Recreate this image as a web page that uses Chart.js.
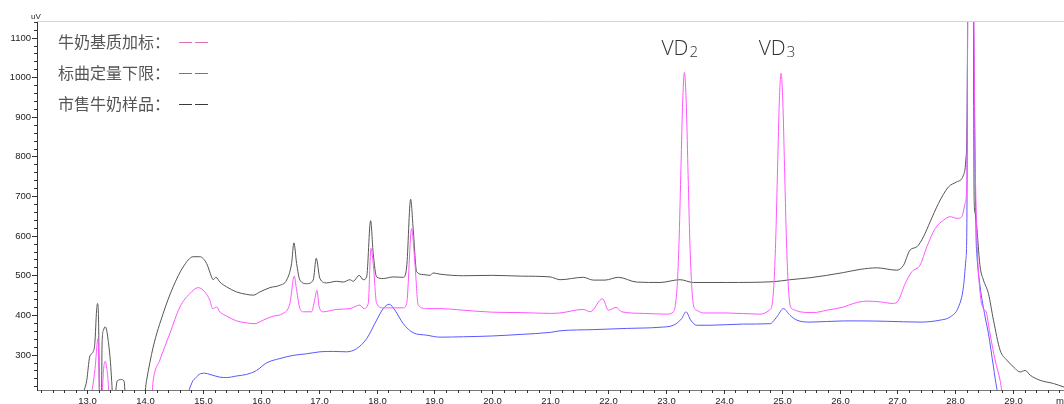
<!DOCTYPE html>
<html>
<head>
<meta charset="utf-8">
<script src="https://cdn.jsdelivr.net/npm/chart.js@4.4.0/dist/chart.umd.min.js"></script>
<style>
html,body{margin:0;padding:0;background:#fff}
#wrap{width:1064px;height:404px}
</style>
</head>
<body>
<div id="wrap"><canvas id="chrom" width="1064" height="404"></canvas></div>
<script>
// axis ranges (min / uV)
const xRange = [12.13, 29.88];
const yRange = [210.6, 1142];

// 市售牛奶样品 (black)
const sampleTimes = [12.90,12.945,12.99,13.04,13.10,13.13,13.16,13.176,13.195,13.21,13.235,13.245,13.255,13.28,13.305,13.33,13.36,13.40,13.42,13.44,13.475,13.515,13.59,13.635,13.66,13.98,
  14.024,14.138,14.311,14.483,14.656,14.829,14.945,15.061,15.147,15.175,15.222,15.291,15.407,15.580,15.752,15.867,15.982,16.155,16.328,16.444,16.530,16.570,16.617,16.674,16.790,16.904,16.956,17.020,
  17.136,17.308,17.423,17.538,17.595,17.699,17.768,17.827,17.896,17.941,18.000,18.114,18.287,18.460,18.519,18.588,18.633,18.692,18.806,18.922,18.979,19.094,19.5,20.0,20.5,21.0,21.17,21.572,21.745,
  21.947,22.177,22.495,22.898,23.244,23.474,24.051,24.857,25.146,25.492,25.780,26.067,26.356,26.644,26.990,27.104,27.220,27.336,27.450,27.566,27.709,27.882,28.028,28.142,28.183,28.205,28.228,28.26,
  28.29,28.315,28.327,28.344,28.431,28.488,28.574,28.661,28.776,28.892,29.006,29.122,29.209,29.295,29.468,29.698,29.88];
const sampleValues = [190,210,235,294,307,329,412,429,379,190,190,195,330,362,370,364,336,280,235,195,195,233,237,233,195,195,
  235,319,404,471,521,547,547,530,496,489,495,483,471,458,452,450,458,469,475,488,530,582,530,488,479,488,543,492,
  481,485,483,489,485,500,489,496,638,555,496,492,496,495,521,692,614,509,502,500,506,503,499,500,498,496,489,495,488,
  488,495,483,482,489,482,482,484,489,494,500,507,515,519,513,525,564,572,597,635,681,723,736,753,791,892,1500,1800,
  1500,1150,689,656,521,488,454,387,311,286,269,256,260,248,235,227,218];

// 牛奶基质加标 (pink)
const spikedTimes = [13.00,13.073,13.13,13.185,13.216,13.245,13.285,13.308,13.342,13.389,14.110,14.138,14.253,14.426,14.599,14.772,14.916,15.031,15.118,15.165,15.234,15.291,15.407,15.580,15.752,
  15.896,16.040,16.212,16.385,16.501,16.576,16.617,16.674,16.731,16.876,16.928,16.968,17.008,17.077,17.308,17.538,17.711,17.780,17.855,17.902,17.941,18.000,18.114,18.460,18.519,18.605,18.662,18.719,
  18.864,19.094,19.5,20.0,20.5,21.0,21.169,21.572,21.688,21.907,22.004,22.137,22.236,22.609,23.014,23.128,23.16,23.20,23.23,23.26,23.29,23.32,23.35,23.38,23.41,23.44,23.48,23.532,23.647,24.051,
  24.627,24.788,24.83,24.87,24.90,24.93,24.96,24.99,25.02,25.05,25.08,25.11,25.15,25.20,25.318,25.549,25.780,26.067,26.240,26.472,26.702,26.932,27.018,27.134,27.250,27.393,27.509,27.653,27.796,
  27.912,28.028,28.114,28.171,28.201,28.225,28.26,28.31,28.34,28.373,28.431,28.488,28.535,28.591,28.690,28.776,28.833,29.88];
const spikedValues = [190,205,260,340,190,190,269,283,260,190,190,235,286,353,420,454,469,458,437,416,420,408,397,385,380,
  378,387,397,404,429,498,462,416,408,408,437,462,420,408,414,416,425,416,429,568,530,429,418,418,429,618,530,425,
  416,416,412,407,406,404,405,414,408,441,412,419,408,404,402,408,422,487,602,773,940,1012,940,773,602,487,422,412,405,405,
  402,412,422,487,602,773,940,1010,940,773,602,487,422,414,408,406,412,420,429,435,433,429,437,479,509,526,572,618,639,
  648,644,648,681,740,1500,1800,1400,850,606,454,416,408,361,286,235,190,190];

// 标曲定量下限 (blue)
const lloqTimes = [14.70,14.743,14.829,14.859,14.933,15.031,15.118,15.291,15.407,15.580,15.752,15.925,16.098,16.328,16.558,16.790,17.020,17.250,17.481,17.654,17.827,18.000,18.114,18.218,18.316,
  18.460,18.633,18.864,19.094,19.5,20.0,20.5,21.0,21.169,21.745,22.322,22.898,23.128,23.273,23.347,23.428,23.532,23.762,24.338,24.800,24.916,25.030,25.146,25.262,25.492,26.067,26.356,26.817,27.393,
  27.739,27.912,28.056,28.142,28.183,28.201,28.22,28.25,28.29,28.32,28.36,28.373,28.431,28.517,28.574,28.661,28.719,28.76,29.88];
const lloqValues = [190,205,235,239,250,253,250,243,242,246,250,260,279,290,298,302,307,308,307,315,340,387,416,427,412,
  378,355,349,344,345,347,351,356,360,363,366,369,374,391,408,387,374,374,377,378,395,416,399,387,382,385,385,384,382,
  387,395,420,471,538,622,1500,1800,1500,1100,600,555,471,395,353,269,214,190,190];

// legend + labels
const legendLabels = ['牛奶基质加标：', '标曲定量下限：', '市售牛奶样品：'];
const legendDashColors = ['#e06fb4', '#4f78d6', '#3a3a3a'];
const peakNames = [['VD', '2', 23.23], ['VD', '3', 24.91]];

function zip(ts, vs){ return ts.map((t,i)=>({x:t, y:vs[i]})) }
function isWhole(v, step){ return Math.abs(v/step - Math.round(v/step)) < 1e-6 }

const decorPlugin = {
  id:'decor',
  afterDraw(chart){
    const ctx = chart.ctx, xs = chart.scales.x, ys = chart.scales.y, area = chart.chartArea;
    ctx.save();
    // top frame line
    ctx.strokeStyle = '#d4d4d4'; ctx.lineWidth = 1;
    ctx.beginPath(); ctx.moveTo(area.left, area.top + 0.5); ctx.lineTo(chart.width, area.top + 0.5); ctx.stroke();
    // y ticks + labels
    ctx.strokeStyle = '#333'; ctx.fillStyle = '#222';
    ctx.font = '9.5px "Liberation Sans", Arial, sans-serif';
    ctx.textAlign = 'right'; ctx.textBaseline = 'middle';
    ys.ticks.forEach(t=>{
      if(t.value < yRange[0] || t.value > yRange[1]) return;
      const py = Math.round(ys.getPixelForValue(t.value)) + 0.5;
      const major = isWhole(t.value, 100);
      ctx.beginPath(); ctx.moveTo(area.left - (major?5:3), py); ctx.lineTo(area.left, py); ctx.stroke();
      if(major) ctx.fillText(String(t.value), area.left - 6, py);
    });
    // x ticks + labels
    ctx.textAlign = 'center'; ctx.textBaseline = 'alphabetic';
    xs.ticks.forEach(t=>{
      if(t.value < xRange[0] || t.value > xRange[1]) return;
      const px = Math.round(xs.getPixelForValue(t.value)) + 0.5;
      const major = isWhole(t.value, 1);
      ctx.beginPath(); ctx.moveTo(px, area.bottom); ctx.lineTo(px, area.bottom + (major?4:3)); ctx.stroke();
      if(major) ctx.fillText(t.value.toFixed(1), px, 404);
    });
    ctx.textAlign = 'left';
    ctx.fillText('m', 1056, 404);
    ctx.font = '8px "Liberation Sans", Arial, sans-serif';
    ctx.textAlign = 'center';
    ctx.fillText('uV', area.left - 1, 18.5);
    // legend
    ctx.textAlign = 'left'; ctx.textBaseline = 'middle';
    ctx.font = '16px "Noto Sans CJK SC", sans-serif';
    legendLabels.forEach((lab,i)=>{
      const y = 42 + i*30.8;
      ctx.fillStyle = '#555';
      ctx.fillText(lab, 58, y);
      ctx.strokeStyle = legendDashColors[i];
      const ly = Math.round(y) + 0.5;
      ctx.beginPath();
      ctx.moveTo(179, ly); ctx.lineTo(192, ly);
      ctx.moveTo(195, ly); ctx.lineTo(208, ly);
      ctx.stroke();
    });
    // peak labels
    ctx.fillStyle = '#333'; ctx.textBaseline = 'alphabetic';
    peakNames.forEach(([main, sub, t])=>{
      const cx = xs.getPixelForValue(t);
      ctx.font = '300 21px "Open Sans", "Noto Sans", sans-serif';
      const w = ctx.measureText(main).width;
      ctx.font = '300 15px "Open Sans", "Noto Sans", sans-serif';
      const ws = ctx.measureText(sub).width;
      const x0 = cx - (w + ws)/2;
      ctx.font = '300 21px "Open Sans", "Noto Sans", sans-serif';
      ctx.fillText(main, x0, 54.5);
      ctx.font = '300 15px "Open Sans", "Noto Sans", sans-serif';
      ctx.fillText(sub, x0 + w + 1, 57);
    });
    ctx.restore();
  }
};

const lineStyle = {borderWidth:1, pointRadius:0, fill:false, cubicInterpolationMode:'monotone'};

new Chart(document.getElementById('chrom'), {
  type:'line',
  data:{
    datasets:[
      {label:'牛奶基质加标', data:zip(spikedTimes, spikedValues), borderColor:'#ff55ff', ...lineStyle},
      {label:'标曲定量下限', data:zip(lloqTimes, lloqValues), borderColor:'#5858ff', ...lineStyle},
      {label:'市售牛奶样品', data:zip(sampleTimes, sampleValues), borderColor:'#555555', ...lineStyle}
    ]
  },
  options:{
    responsive:false, animation:false, devicePixelRatio:1,
    layout:{padding:{top:21, left:0, right:0, bottom:0}},
    plugins:{legend:{display:false}, tooltip:{enabled:false}},
    scales:{
      x:{type:'linear', min:xRange[0], max:xRange[1],
        ticks:{stepSize:0.2, includeBounds:false, display:false, autoSkip:false},
        grid:{display:false}, border:{display:true, color:'#777', width:1},
        afterFit(s){ s.height = 14 }},
      y:{type:'linear', min:yRange[0], max:yRange[1],
        ticks:{stepSize:20, includeBounds:false, display:false, autoSkip:false},
        grid:{display:false}, border:{display:true, color:'#333', width:1},
        afterFit(s){ s.width = 37 }}
    }
  },
  plugins:[decorPlugin]
});
</script>
</body>
</html>
